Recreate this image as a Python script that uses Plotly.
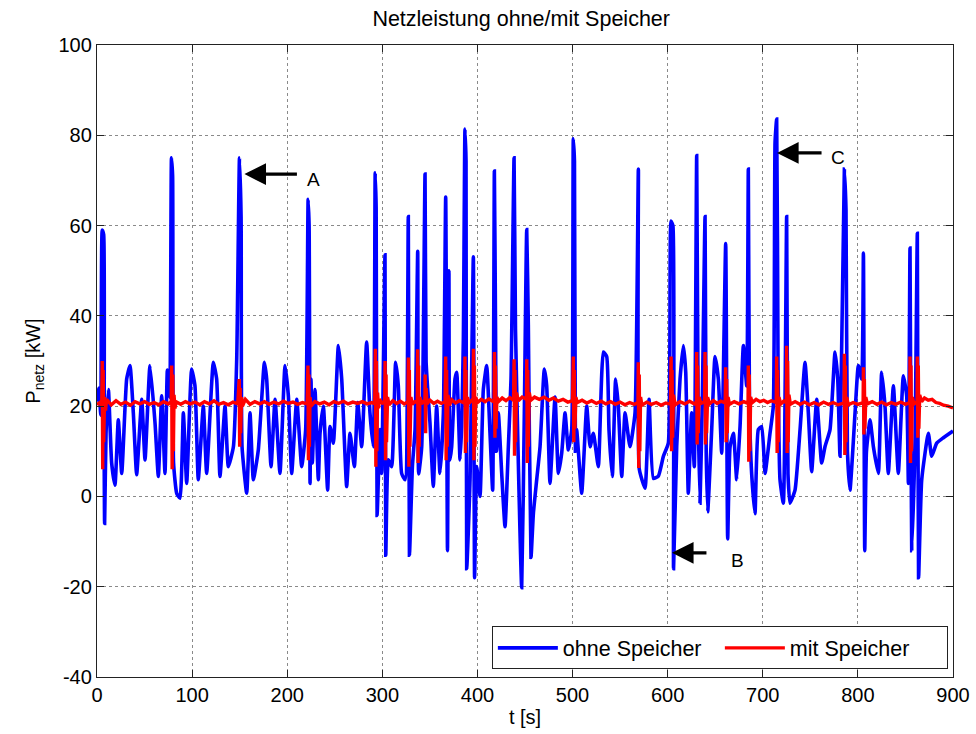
import plotly.graph_objects as go

# ---- ohne Speicher (blue) : time [s] and power [kW] ----
t_ohne = [
    0, 2, 4, 5.5, 7, 7.5, 8, 9.5, 12, 15.4,
    18.9, 22.4, 26, 31.2, 34.7, 38.2, 41.7, 47, 50.5, 55.7,
    61, 64.5, 68, 71.5, 74, 76.5, 78.3, 79.5, 80.5, 83.8,
    87.3, 90.8, 94.3, 99.5, 103, 106.5, 111.8, 115.3, 122.3, 125.8,
    129.3, 134.6, 138.1, 143.4, 146.9, 149.8, 151.5, 152.5, 157.4, 160.9,
    164.4, 169.6, 176, 178.4, 183, 187.2, 192.4, 197.7, 201.2, 204.7,
    210, 215.2, 219.4, 222, 223, 224, 225, 226.4, 229.2, 232.7,
    234.5, 238, 242.5, 245, 248.5, 253.8, 257.3, 262.5, 266, 270.6,
    274.1, 278.3, 283.5, 287, 290.6, 292.5, 293.5, 294.5, 297.6, 299.3,
    302.8, 303.6, 306.3, 309.8, 314, 316.8, 320.3, 323.8, 327.3, 328.5,
    331.6, 334.4, 337.2, 338.2, 341.4, 344.9, 346, 347.7, 350.1, 353.6,
    357.1, 360.6, 364.2, 366.6, 368.5, 370, 371, 372.9, 376.4, 378.2,
    381.7, 383.4, 385.2, 386.9, 388, 388.7, 392.2, 395.7, 397, 399.2,
    402.7, 406.2, 409.7, 413.2, 416, 417.8, 419, 420, 422, 425.5,
    429, 432.5, 435.3, 438.5, 440, 443, 446.5, 449.3, 451.8, 453.5,
    456.3, 458.8, 462.3, 465.8, 470.3, 472.8, 476.3, 481.6, 485.1, 488.6,
    492.1, 495.6, 499.1, 500.8, 502, 503, 504.3, 509.6, 514.9, 518.4,
    521.9, 527.1, 532.4, 535.9, 538.3, 541.8, 545.3, 548.1, 551.7, 555.2,
    560.4, 565.7, 569.2, 570.2, 576.2, 580.4, 585, 590.2, 595.5, 600.7,
    603.5, 605.5, 606.2, 609.5, 613, 616.5, 619, 621.7, 625.2, 628,
    630.5, 632, 634, 636.5, 639.3, 640.5, 642.1, 646.3, 649.8, 653.3,
    656.8, 661, 663.1, 665.6, 669.1, 672.6, 676.1, 679.6, 683.1, 684.8,
    686, 688.3, 691.8, 695.3, 698.9, 702.4, 707.6, 711.1, 712.9, 714.6,
    716, 718.1, 721.6, 725.1, 726.5, 728.6, 733.9, 739.2, 744.4, 747.9,
    751.4, 756.7, 761.9, 765.4, 770.7, 776, 778.8, 781.2, 785.8, 787.5,
    789, 791.7, 797, 800.5, 804, 805.8, 807.2, 809, 812.8, 816.3,
    821.5, 825, 828.5, 832, 837.3, 842.5, 847.8, 851.3, 853.1, 854.8,
    856.6, 860.1, 862.5, 863.8, 867.1, 874.1, 877.6, 882.9, 889.9, 900,
]
p_ohne = [
    21, 24, 18, 59, 58, 12, -6, 14, 23.7, 7.4,
    2.5, 17, 5.1, 26, 29, 18.5, 4.8, 21.5, 8.1, 29,
    16.3, 4.4, 22.3, 5.1, 28, 22, 75, 71, 7.4, 0.7,
    -0.4, 18.5, 2.9, 28.2, 24.5, 3.7, 20, 5.1, 29.7, 26,
    4.4, 20, 6.6, 11, 30.4, 75, 62, 11, 0.7, 18.5,
    3.7, 10.3, 29.7, 26, 6.6, 21.5, 5.1, 29, 22.3, 5.1,
    21.5, 6.6, 14.8, 65.8, 60, 2.9, 26, 7.4, 23.7, 3.7,
    14, 20, 1.4, 15.5, 11.8, 33.4, 26, 2.2, 14, 6.6,
    20.8, 11, 34.2, 18.5, 11, 71.7, 64, -4.2, 14.8, 5.1,
    53.5, -13, 8.1, 6.6, 29.7, 24.5, 5.1, 3.7, 62, -13,
    6.6, 14.8, 54.3, 5, 11, 71.4, 30, 23.7, 16.3, 2.2,
    20, 5.1, 18.5, 66.3, -12, 50, 8, 11, 26, 27.5,
    8.1, 15.5, 34.9, 81.4, 74.3, -16, 3.7, 53.1, -18, 6.6,
    0, 23.7, 29, 14, 1.4, 72.1, 38, 10, 18.5, 5.1,
    -6.7, 11, 26, 75, 37, 7.4, -20.2, 18.5, 59.1, 38,
    -13.5, -3.8, 3.7, 11, 28.2, 24.5, 2.9, 22, 5.1, 9.6,
    18.5, 10.3, 14.8, 79.2, 74.3, 10, 14.8, 0.7, 20, 11,
    14, 6.6, 32, 31, 14.8, 4.4, 26, 20, 4.4, 18.5,
    11, 18.5, 72.5, 6, 1.8, 21.5, 4, 4.5, 8.9, 11.8,
    61, 60, -16, 11, 26, 33.4, 27.5, 0.7, 18.5, 6.6,
    75.5, 20, -1.5, 22.3, 62, 10, -3.4, 14.8, 31, 26,
    9.6, 56, -9.4, 11, 14, 3.7, 15.5, 33.4, 24.5, 72.5,
    20, 5.1, -3.8, 14.8, 15.5, 5.1, 14, 20, 78.4, 83.6,
    30, 3.7, -1.5, 62, 5, -1.5, 1.4, 14.8, 29.7, 18.5,
    5.5, 21.5, 7.4, 11, 14.8, 32, 26, 8.9, 72.5, 63.5,
    10, 1.4, 18.5, 29, 26, 53.9, -12, 10, 17, 11,
    5.1, 27.5, 20, 5.1, 24.5, 5.1, 26.7, 22.3, 2.9, 55,
    -12, 12.6, 58.3, -18, 3.7, 14, 8.9, 11.8, 13, 14.5,
]

# ---- mit Speicher (red) ----
t_mit = [
    0, 3, 5, 5.5, 6, 6.5, 7, 8, 9, 10,
    15, 20, 25, 30, 35, 40, 45, 50, 55, 60,
    65, 70, 75, 78, 78.5, 79, 79.7, 80.3, 81, 82,
    83, 88, 93, 98, 103, 108, 113, 118, 123, 128,
    133, 138, 143, 148, 149.5, 150, 150.5, 151, 152, 153,
    156, 161, 166, 171, 176, 181, 186, 191, 196, 201,
    206, 211, 216, 221, 221.8, 222.3, 222.8, 223.3, 224, 225,
    229, 234, 239, 244, 249, 254, 259, 264, 269, 274,
    279, 284, 289, 292, 292.7, 293.2, 293.7, 294.2, 295, 296,
    297, 300, 302.5, 302.9, 303.4, 303.9, 304.4, 305.5, 307, 311,
    315, 319, 323, 327, 327.4, 327.9, 328.4, 329, 330, 331.5,
    334, 336.8, 337.1, 337.6, 338.1, 338.7, 339.5, 341, 343, 344.8,
    345, 345.5, 346, 347, 350, 354, 358, 362, 366, 366.6,
    367.1, 367.6, 368.2, 369, 370.5, 373, 377, 381, 385, 386.5,
    386.9, 387.4, 387.9, 388.5, 389.5, 391, 394, 395.5, 395.8, 396.3,
    396.8, 397.4, 398.2, 400, 404, 408, 412, 416, 417.6, 417.9,
    418.4, 418.9, 419.5, 420.5, 422, 426, 430, 434, 438, 438.5,
    439, 439.5, 440.1, 441, 443, 447, 451.5, 451.9, 452.4, 452.9,
    453.5, 454.5, 456, 460, 465, 470, 475, 480, 485, 490,
    495, 500, 500.8, 501.3, 501.8, 502.4, 503.5, 505, 510, 515,
    520, 525, 530, 535, 540, 545, 550, 555, 560, 565,
    568.8, 569.1, 569.6, 570.1, 570.7, 571.5, 573, 578, 583, 588,
    593, 598, 603, 603.6, 604.1, 604.6, 605.2, 606, 608, 613,
    618, 623, 628, 630.3, 630.5, 631, 631.5, 632.1, 633, 635,
    638.8, 639.3, 639.8, 640.3, 640.9, 642, 644, 648, 652, 656,
    660.5, 661, 661.5, 662, 662.6, 663.5, 665, 670, 675, 680,
    684.5, 684.8, 685.3, 685.8, 686.4, 687.2, 689, 693, 697, 701,
    705, 709, 714.2, 714.6, 715.1, 715.6, 716.2, 717, 719, 722,
    724.8, 725.1, 725.6, 726.1, 726.7, 727.5, 729, 734, 739, 744,
    749, 754, 759, 764, 769, 774, 779, 785.5, 785.8, 786.3,
    786.8, 787.4, 788.2, 790, 795, 800, 805.5, 805.8, 806.3, 806.8,
    807.4, 808.3, 810, 815, 820, 825, 830, 835, 840, 845,
    850, 854.5, 854.8, 855.3, 855.8, 856.4, 857.2, 859, 862.3, 862.5,
    863, 863.5, 864.1, 865, 867, 870, 874, 878, 882, 886,
    890, 895, 900,
]
p_mit = [
    20.3, 20.8, 20, 30, 6, 28, 12, 22, 19, 21.5,
    20.3, 21.2, 20.4, 20.9, 20.2, 21, 20.5, 21, 20.4, 20.8,
    20.3, 21, 20.5, 21, 29, 6, 27, 10, 22.5, 19.5,
    21, 20.4, 21, 20.5, 20.9, 20.3, 21, 20.5, 21.2, 20.4,
    20.8, 20.3, 20.9, 20.5, 26, 11, 24, 14, 22, 20,
    21.5, 20.4, 21, 20.5, 21, 20.4, 20.9, 20.5, 21.1, 20.6,
    20.9, 20.4, 20.8, 20.5, 29, 8, 27, 11, 22, 20,
    21, 20.5, 20.9, 20.3, 21, 20.6, 21.1, 20.5, 20.9, 20.6,
    21, 20.5, 20.8, 20.5, 32.7, 6.6, 30, 10, 23, 19.5,
    21.5, 20.7, 21, 30, 8, 27, 12, 22, 20.3, 21.2,
    20.6, 21.1, 20.5, 21, 30.8, 6.6, 28, 11, 22, 20.4,
    21, 20.8, 32.6, 7.4, 29, 11, 22, 20.5, 21, 20.8,
    27, 14, 24, 20.5, 21.3, 20.6, 21.1, 20.6, 21, 31,
    8, 28, 11, 22.5, 20.2, 21.4, 20.7, 21.2, 20.8, 21,
    31, 9.6, 28, 12, 22, 20.6, 21.3, 21, 32.7, 8,
    29, 11, 22, 20.8, 21.5, 21, 21.6, 21.1, 21.4, 32,
    13, 29, 15, 22, 21, 21.8, 21.2, 21.9, 21.3, 30.4,
    9, 28, 12, 23, 21.2, 22, 21.5, 30.4, 7.4, 28,
    11, 23, 21.3, 22, 21.5, 22, 21.3, 21.8, 21.1, 21.5,
    20.9, 21.2, 31, 12, 28, 15, 22, 20.8, 21.3, 20.7,
    21.2, 20.6, 21.1, 20.5, 21, 20.4, 20.9, 20.3, 20.8, 20.4,
    20.8, 29.7, 6.3, 27, 10, 22, 20.2, 20.9, 20.4, 20.8,
    20.2, 20.7, 20.4, 31, 10, 28, 13, 22.5, 20.3, 21,
    20.5, 21.1, 20.5, 21, 32, 11.5, 29, 14, 22, 20.6,
    21, 32, 11.5, 29, 14, 22, 20.5, 21.2, 20.6, 21.1,
    20.7, 28.6, 12, 26, 14, 22, 20.4, 21, 20.5, 21,
    20.6, 29, 7.7, 27, 10, 22, 20.8, 21.5, 21, 21.3,
    20.8, 21.2, 20.8, 31, 9.6, 28, 12, 22, 20.5, 21.1,
    20.8, 33.4, 9.6, 30, 12, 22.5, 20.4, 21, 20.4, 20.9,
    20.3, 20.8, 20.3, 20.9, 20.4, 20.8, 20.3, 20.7, 31.6, 9.2,
    29, 12, 22, 20.3, 20.8, 20.4, 20.8, 28.6, 13.7, 26,
    15, 22, 20.5, 21, 20.4, 20.9, 20.3, 20.8, 20.4, 20.9,
    20.4, 20.8, 31, 7.4, 29, 10, 22, 20.5, 21, 31,
    13, 29, 15, 22.5, 21, 21.8, 21.3, 21.5, 20.8, 20.6,
    20.2, 20, 19.6,
]

x_ticks = [0, 100, 200, 300, 400, 500, 600, 700, 800, 900]
y_ticks = [-40, -20, 0, 20, 40, 60, 80, 100]

# annotation anchor points (data coordinates) for arrows A, B, C
arrow_labels = ["A", "B", "C"]
arrow_head_t = [155.0, 604.5, 715.0]
arrow_head_p = [71.4, -12.5, 76.1]
label_t = [228, 673, 779]
label_p = [70.3, -14.3, 75.0]
arrow_len_px = [54, 36, 46]

fig = go.Figure()
fig.add_trace(go.Scatter(x=t_ohne, y=p_ohne, mode="lines", name="ohne Speicher",
                         line=dict(color="#0000ff", width=3.6, shape="spline", smoothing=0.45)))
fig.add_trace(go.Scatter(x=t_mit, y=p_mit, mode="lines", name="mit Speicher",
                         line=dict(color="#ff0000", width=3.4)))

for lab, ht, hp, lt, lp, sh in zip(arrow_labels, arrow_head_t, arrow_head_p, label_t, label_p, arrow_len_px):
    fig.add_annotation(x=ht, y=hp, xref="x", yref="y", text="", showarrow=True,
                       ax=sh, ay=0, axref="pixel", ayref="pixel",
                       arrowhead=2, arrowsize=1.35, arrowwidth=3.2, arrowcolor="black")
    fig.add_annotation(x=lt, y=lp, xref="x", yref="y", text=lab, showarrow=False,
                       font=dict(size=19, color="black"))

axis_common = dict(showline=True, linecolor="#222", linewidth=1.3, mirror="ticks",
                   ticks="inside", ticklen=7, tickcolor="#222", tickwidth=1.3,
                   showgrid=True, gridcolor="#8a8a8a", griddash="dot", gridwidth=1,
                   zeroline=False, automargin=False, tickfont=dict(size=20, color="black"))

fig.update_xaxes(range=[0, 900], tickvals=x_ticks, ticktext=[str(v) for v in x_ticks],
                 title=dict(text="t [s]", font=dict(size=20), standoff=4), **axis_common)
fig.update_yaxes(range=[-40, 100], tickvals=y_ticks, ticktext=[str(v) for v in y_ticks],
                 title=dict(text="P<sub>netz</sub> [kW]", font=dict(size=20), standoff=12),
                 **axis_common)

fig.update_layout(
    template="none",
    width=976, height=734,
    margin=dict(l=97, r=23, t=45, b=57, pad=0),
    plot_bgcolor="white", paper_bgcolor="white",
    font=dict(family="Liberation Sans, Arial, sans-serif", size=20, color="black"),
    title=dict(text="Netzleistung ohne/mit Speicher", x=0.534, xanchor="center",
               y=0.975, yanchor="middle", font=dict(size=21.5)),
    showlegend=True,
    legend=dict(orientation="h", x=0.994, xanchor="right", y=0.012, yanchor="bottom",
                bgcolor="white", bordercolor="#222", borderwidth=1,
                font=dict(size=21.5), entrywidth=152, itemwidth=60),
)

fig.write_html("out.html", config={"displayModeBar": False},
               post_script="document.body.style.margin='0px';")
